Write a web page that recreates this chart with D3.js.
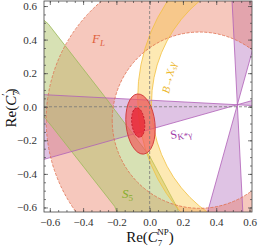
<!DOCTYPE html>
<html>
<head>
<meta charset="utf-8">
<script src="https://cdn.jsdelivr.net/npm/d3@7"></script>
<style>
  body { margin: 0; background: #fff; }
  svg { display: block; }
  text { font-family: 'Liberation Serif', 'DejaVu Serif', serif; }
</style>
</head>
<body>
<div id="chart"></div>
<script>
// axis ticks
const xTicks = [-0.6, -0.4, -0.2, 0, 0.2, 0.4, 0.6];
const yTicks = [-0.6, -0.4, -0.2, 0, 0.2, 0.4, 0.6];

// F_L: annulus, centre and radii
const flCenter = [0.30, -0.08];
const flRadii = [0.525, 0.922];

// B -> Xs gamma band: outer and inner circle [cx, cy, r]
const bxsOuter = [0.948, 0.051, 1.02];
const bxsInner = [0.802, 0.019, 0.791];

// S5 band edges
const s5Upper = [[-0.7, 0.57], [-0.61, 0.494], [-0.269, 0.059], [0, -0.294], [0.168, -0.606], [0.19, -0.7]];
const s5Lower = [[-0.7, 0.02], [-0.587, -0.118], [-0.21, -0.594], [-0.17, -0.7]];

// S_K*gamma: apex and allowed slope range
const skApex = [0.527, 0.012];
const skSlopes = [-0.0515, 0.28];

// combined fit ellipses [cx, cy, rx, ry, tilt deg]
const fitOuter = [-0.055, -0.103, 0.087, 0.18, -6];
const fitInner = [-0.069, -0.094, 0.039, 0.088, -6];

const W = 258, H = 247;
const plot = { left: 44, right: 252, top: 1, bottom: 212 };

const svg = d3.select('#chart')
  .append('svg')
  .attr('width', W)
  .attr('height', H);

const x = d3.scaleLinear().domain([-0.635, 0.615]).range([plot.left, plot.right]);
const y = d3.scaleLinear().domain([-0.627, 0.63]).range([plot.bottom, plot.top]);

svg.append('clipPath').attr('id', 'clip')
  .append('rect')
  .attr('x', plot.left).attr('y', plot.top)
  .attr('width', plot.right - plot.left)
  .attr('height', plot.bottom - plot.top);

const g = svg.append('g').attr('clip-path', 'url(#clip)');

// ellipse path in data coordinates (x and y scales differ slightly)
function ellipsePath(cx, cy, r) {
  const rx = x(cx + r) - x(cx), ry = y(cy) - y(cy + r);
  const px = x(cx), py = y(cy);
  return `M${px - rx},${py}A${rx},${ry} 0 1,0 ${px + rx},${py}A${rx},${ry} 0 1,0 ${px - rx},${py}Z`;
}

const line = d3.line().x((d) => x(d[0])).y((d) => y(d[1]));

// S_K*gamma: two wedges through the apex (fills underneath)
const L = 3;
const [ax, ay] = skApex;
const [s1, s2] = skSlopes;
const wedgeH = [[ax, ay], [ax - L, ay - L * s1], [ax - L, ay - L * s2], [ax, ay], [ax + L, ay + L * s2], [ax + L, ay + L * s1]];
const wedgeV = [[ax, ay], [ax + L * s1, ay + L], [ax + L * s2, ay + L], [ax, ay], [ax - L * s2, ay - L], [ax - L * s1, ay - L]];
[wedgeH, wedgeV].forEach((w) => {
  g.append('path')
    .attr('d', line(w) + 'Z')
    .attr('fill', '#a050b0')
    .attr('fill-opacity', 0.34);
});

// F_L
const flPath = ellipsePath(flCenter[0], flCenter[1], flRadii[1]) + ellipsePath(flCenter[0], flCenter[1], flRadii[0]);
g.append('path')
  .attr('d', flPath)
  .attr('fill', '#e8755a')
  .attr('fill-opacity', 0.4)
  .attr('fill-rule', 'evenodd');

// S5
const s5Poly = s5Upper.concat(s5Lower.slice().reverse());
g.append('path')
  .attr('d', line(s5Poly) + 'Z')
  .attr('fill', '#b0c46a')
  .attr('fill-opacity', 0.5);
[s5Upper, s5Lower].forEach((edge) => {
  g.append('path').attr('d', line(edge)).attr('fill', 'none')
    .attr('stroke', '#9cba5a').attr('stroke-width', 0.8);
});

// B -> Xs gamma
g.append('path')
  .attr('d', ellipsePath(...bxsOuter) + ellipsePath(...bxsInner))
  .attr('fill', '#fac840')
  .attr('fill-opacity', 0.4)
  .attr('fill-rule', 'evenodd');
[bxsOuter, bxsInner].forEach((c) => {
  g.append('path').attr('d', ellipsePath(...c)).attr('fill', 'none')
    .attr('stroke', '#f2c040').attr('stroke-width', 0.8);
});

// S_K*gamma boundaries on top
[wedgeH, wedgeV].forEach((w) => {
  g.append('path')
    .attr('d', line(w) + 'Z')
    .attr('fill', 'none')
    .attr('stroke', '#b060b8')
    .attr('stroke-width', 0.8);
});

// F_L boundaries (dashed)
flRadii.forEach((r) => {
  g.append('path').attr('d', ellipsePath(flCenter[0], flCenter[1], r)).attr('fill', 'none')
    .attr('stroke', '#e0704f').attr('stroke-width', 0.8).attr('stroke-dasharray', '3,1.5');
});

// combined fit
function tiltedEllipse(e, fill, stroke, dash) {
  const [cx, cy, rx, ry, t] = e;
  g.append('ellipse')
    .attr('cx', x(cx)).attr('cy', y(cy))
    .attr('rx', x(cx + rx) - x(cx)).attr('ry', y(cy) - y(cy + ry))
    .attr('transform', `rotate(${t},${x(cx)},${y(cy)})`)
    .attr('fill', fill)
    .attr('stroke', stroke)
    .attr('stroke-width', 0.9)
    .attr('stroke-dasharray', dash);
}
tiltedEllipse(fitOuter, 'rgba(240,90,90,0.7)', '#d03838', null);
tiltedEllipse(fitInner, 'rgba(232,35,50,0.75)', '#c01828', '2,1.5');

// SM dashed lines
g.append('line').attr('x1', x(0)).attr('x2', x(0)).attr('y1', plot.top).attr('y2', plot.bottom)
  .attr('stroke', '#777').attr('stroke-width', 0.8).attr('stroke-dasharray', '3,2');
g.append('line').attr('y1', y(0)).attr('y2', y(0)).attr('x1', plot.left).attr('x2', plot.right)
  .attr('stroke', '#777').attr('stroke-width', 0.8).attr('stroke-dasharray', '3,2');

// labels
const flLabel = svg.append('text').attr('x', 92).attr('y', 43)
  .attr('fill', '#e0603c').style('font-size', '13px').style('font-style', 'italic');
flLabel.append('tspan').text('F');
flLabel.append('tspan').attr('dy', 3).style('font-size', '9px').text('L');

const s5Label = svg.append('text').attr('x', 122).attr('y', 198)
  .attr('fill', '#86ad2c').style('font-size', '13px').style('font-style', 'italic');
s5Label.append('tspan').text('S');
s5Label.append('tspan').attr('dy', 3).style('font-size', '9px').style('font-style', 'normal').text('5');

const bLabel = svg.append('text')
  .attr('transform', 'translate(169,94) rotate(-77)')
  .attr('fill', '#ecb628').style('font-size', '11px').style('font-style', 'italic');
bLabel.append('tspan').text('B\u2192X');
bLabel.append('tspan').attr('dy', 2).style('font-size', '8px').text('s');
bLabel.append('tspan').attr('dy', -2).text('\u03b3');

const sLabel = svg.append('text')
  .attr('transform', 'translate(171,139) rotate(-9)')
  .attr('fill', '#a03ca8').style('font-size', '12px');
sLabel.append('tspan').text('S');
sLabel.append('tspan').attr('dy', 2).style('font-size', '9px').text('K*\u03b3');

// axes
const fmt = d3.format('.1f');
const minor = d3.range(-0.6, 0.61, 0.05);
const frame = svg.append('g').attr('class', 'frame');

function styleAxis(sel) {
  sel.select('.domain').remove();
  sel.selectAll('line').attr('stroke', '#444').attr('stroke-width', 0.7);
  sel.selectAll('text').attr('fill', '#333').style('font-size', '11px')
    .style('font-family', "'Liberation Serif', serif");
}

frame.append('g').attr('transform', `translate(0,${plot.bottom})`)
  .call(d3.axisBottom(x).tickValues(xTicks).tickSizeInner(-4).tickSizeOuter(0).tickPadding(6).tickFormat(fmt))
  .call(styleAxis);
frame.append('g').attr('transform', `translate(0,${plot.bottom})`)
  .call(d3.axisBottom(x).tickValues(minor).tickSize(-2).tickFormat(''))
  .call(styleAxis);
frame.append('g').attr('transform', `translate(${plot.left},0)`)
  .call(d3.axisLeft(y).tickValues(yTicks).tickSizeInner(-4).tickSizeOuter(0).tickPadding(7).tickFormat(fmt))
  .call(styleAxis);
frame.append('g').attr('transform', `translate(${plot.left},0)`)
  .call(d3.axisLeft(y).tickValues(minor).tickSize(-2).tickFormat(''))
  .call(styleAxis);
frame.append('g').attr('transform', `translate(0,${plot.top})`)
  .call(d3.axisTop(x).tickValues(xTicks).tickSize(-4).tickFormat(''))
  .call(styleAxis);
frame.append('g').attr('transform', `translate(0,${plot.top})`)
  .call(d3.axisTop(x).tickValues(minor).tickSize(-2).tickFormat(''))
  .call(styleAxis);
frame.append('g').attr('transform', `translate(${plot.right},0)`)
  .call(d3.axisRight(y).tickValues(yTicks).tickSize(-4).tickFormat(''))
  .call(styleAxis);
frame.append('g').attr('transform', `translate(${plot.right},0)`)
  .call(d3.axisRight(y).tickValues(minor).tickSize(-2).tickFormat(''))
  .call(styleAxis);

frame.append('rect')
  .attr('x', plot.left).attr('y', plot.top)
  .attr('width', plot.right - plot.left).attr('height', plot.bottom - plot.top)
  .attr('fill', 'none').attr('stroke', '#444').attr('stroke-width', 0.8);

// axis titles
const xt = svg.append('text').attr('x', 150).attr('y', 242).attr('text-anchor', 'middle')
  .attr('fill', '#111').style('font-size', '15px');
xt.append('tspan').text('Re(');
xt.append('tspan').style('font-style', 'italic').text('C');
xt.append('tspan').attr('dy', 4).style('font-size', '9px').text('7');
xt.append('tspan').attr('dx', -5).attr('dy', -11).style('font-size', '9px').text('NP');
xt.append('tspan').attr('dy', 7).text(')');

const yt = svg.append('text').attr('transform', 'translate(16,108) rotate(-90)').attr('text-anchor', 'middle')
  .attr('fill', '#111').style('font-size', '15px');
yt.append('tspan').text('Re(');
yt.append('tspan').style('font-style', 'italic').text('C');
yt.append('tspan').attr('dy', 4).style('font-size', '10px').text('7');
yt.append('tspan').attr('dx', -5).attr('dy', -11).style('font-size', '10px').text('\u2032');
yt.append('tspan').attr('dy', 7).text(')');
</script>
</body>
</html>
